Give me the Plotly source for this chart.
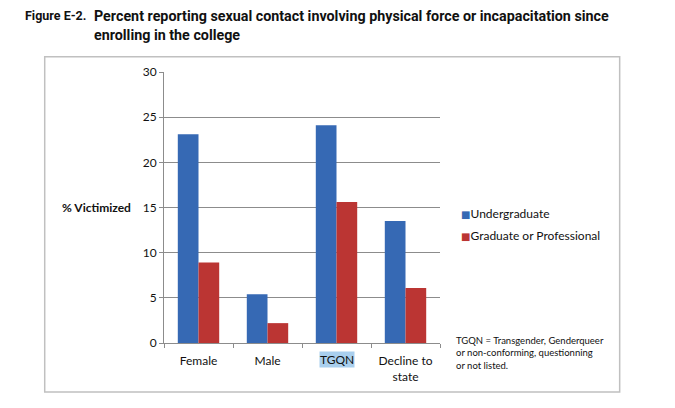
import plotly.graph_objects as go

categories = ["Female", "Male", "TGQN", "Decline to<br>state"]
undergrad = [23.1, 5.4, 24.1, 13.5]
graduate = [8.9, 2.2, 15.6, 6.1]
series_names = ["Undergraduate", "Graduate or Professional"]
y_ticks = [0, 5, 10, 15, 20, 25, 30]
highlight_cat = "TGQN"

BLUE = "#3669b4"
RED = "#bb3533"
FONT = "Lato, Carlito, Calibri, sans-serif"

# plot area pixels
L, R, T, B = 163.5, 440, 72.3, 343.3
W, H = 675, 408

def px(xp):
    return (xp - L) / (R - L)

def py(yp):
    return (B - yp) / (B - T)

fig = go.Figure()
fig.add_trace(go.Bar(x=categories, y=undergrad, name=series_names[0],
                     marker=dict(color=BLUE, line=dict(width=0)), showlegend=False))
fig.add_trace(go.Bar(x=categories, y=graduate, name=series_names[1],
                     marker=dict(color=RED, line=dict(width=0)), showlegend=False))
# legend proxies: coloured square glyph in the label
for nm, col, grp in [(series_names[0], BLUE, "a"), (series_names[1], RED, "b")]:
    fig.add_trace(go.Scatter(x=[None], y=[None], mode="markers",
                             name=f"<span style='color:{col};font-family:DejaVu Sans;font-size:10px'>■</span>{nm}",
                             legendgroup=grp,
                             marker=dict(symbol="square", size=1, color="rgba(0,0,0,0)")))

tick_text = ["" if c == highlight_cat else c for c in categories]

fig.update_layout(
    width=W, height=H,
    margin=dict(l=L, r=W - R, t=T, b=H - B),
    paper_bgcolor="white", plot_bgcolor="white",
    barmode="group", bargap=0.40, bargroupgap=0,
    font=dict(family=FONT, size=12, color="#111111"),
    xaxis=dict(showline=True, linecolor="#8c8c8c", linewidth=1,
               ticks="outside", ticklen=4, tickcolor="#8c8c8c",
               tickson="boundaries", showgrid=False,
               tickvals=categories, ticktext=tick_text,
               ticklabelstandoff=7,
               tickfont=dict(size=12, family=FONT, color="#111111")),
    yaxis=dict(range=[0, 30], tickvals=y_ticks, showline=True,
               linecolor="#8c8c8c", linewidth=1, ticks="outside",
               ticklen=4, tickcolor="#8c8c8c", showgrid=True,
               gridcolor="#8c8c8c", gridwidth=1, zeroline=False,
               tickfont=dict(size=12, family=FONT, color="#111111")),
    legend=dict(x=px(421), y=py(199), xanchor="left", yanchor="top",
                traceorder="grouped", tracegroupgap=3,
                font=dict(size=12, family=FONT, color="#111111"),
                bgcolor="rgba(0,0,0,0)", itemwidth=30),
)

# outer chart border
fig.add_shape(type="rect", xref="paper", yref="paper",
              x0=px(44), x1=px(620), y0=py(392.3), y1=py(57),
              line=dict(color="#c0c0c0", width=1.5), layer="below")

# titles
TFONT = "Roboto, sans-serif"
fig.add_annotation(xref="paper", yref="paper", x=px(22), y=py(6.5),
                   xanchor="left", yanchor="top", showarrow=False,
                   text="<b>Figure E-2.</b>", font=dict(size=12.5, family=TFONT, color="#111111"))
fig.add_annotation(xref="paper", yref="paper", x=px(91), y=py(6),
                   xanchor="left", yanchor="top", showarrow=False, align="left",
                   text="<b>Percent reporting sexual contact involving physical force or incapacitation since<br>enrolling in the college</b>",
                   font=dict(size=14.3, family=TFONT, color="#111111"))

# y-axis title
fig.add_annotation(xref="paper", yref="y", x=px(132), y=15, xanchor="right",
                   yanchor="middle", showarrow=False, text="<b>% Victimized</b>",
                   font=dict(size=12, family=FONT, color="#111111"))

# highlighted TGQN label
fig.add_annotation(xref="x", yref="paper", x=highlight_cat, y=py(360), xanchor="center",
                   yanchor="middle", showarrow=False, text=highlight_cat, bgcolor="#a9cfee",
                   borderpad=0, font=dict(size=12, family=FONT, color="#111111"))

# footnote
fig.add_annotation(xref="paper", yref="paper", x=px(454), y=py(333), xanchor="left",
                   yanchor="top", showarrow=False, align="left",
                   text="TGQN = Transgender, Genderqueer<br>or non-conforming, questionning<br>or not listed.",
                   font=dict(size=9.5, family=FONT, color="#111111"))

fig.write_html("out.html", config={"displayModeBar": False})

# remove default page margin so the figure sits at the window's top-left
with open("out.html", encoding="utf-8") as f:
    html = f.read()
html = html.replace("<head>", "<head><style>html,body{margin:0;padding:0;}</style>", 1)
with open("out.html", "w", encoding="utf-8") as f:
    f.write(html)
